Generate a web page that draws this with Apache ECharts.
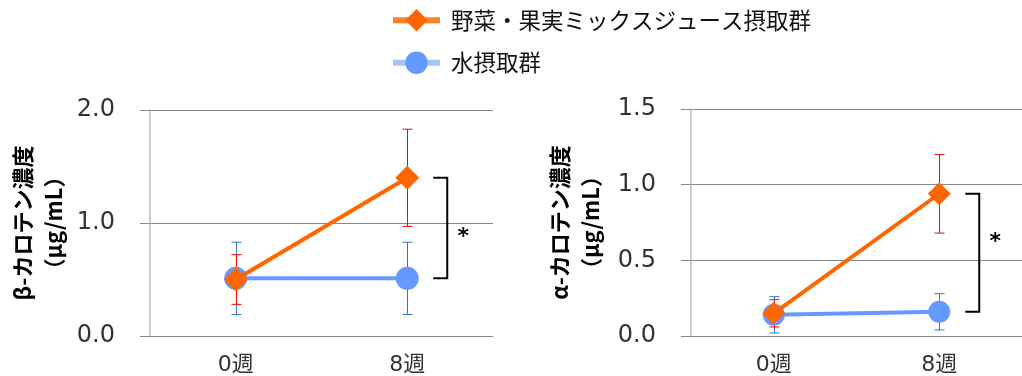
<!DOCTYPE html>
<html>
<head>
<meta charset="utf-8">
<script src="https://cdn.jsdelivr.net/npm/echarts@6/dist/echarts.min.js"></script>
<style>
  html, body { margin: 0; padding: 0; background: #fff; }
  #chart { width: 1022px; height: 376px; }
</style>
</head>
<body>
<div id="chart"></div>
<script>
// Time points and groups
const categories = ['0週', '8週'];
const seriesNames = ['野菜・果実ミックスジュース摂取群', '水摂取群'];

// β-carotene concentration (µg/mL): mean and SD
const betaJuice = [0.50, 1.40];
const betaJuiceSD = [0.22, 0.43];
const betaWater = [0.51, 0.51];
const betaWaterSD = [0.32, 0.32];

// α-carotene concentration (µg/mL): mean and SD
const alphaJuice = [0.15, 0.94];
const alphaJuiceSD = [0.09, 0.26];
const alphaWater = [0.14, 0.16];
const alphaWaterSD = [0.12, 0.12];

// Value axis ranges
const betaAxis = { min: 0, max: 2.0, interval: 1.0 };
const alphaAxis = { min: 0, max: 1.5, interval: 0.5 };

const LATIN = "'DejaVu Sans', 'Noto Sans CJK JP', sans-serif";
const CJK = "'Noto Sans CJK JP', 'DejaVu Sans', sans-serif";
const ORANGE = '#ff6600';
const BLUE = '#6699ff';

function errorBars(idx, means, sds, color) {
  return {
    type: 'custom',
    xAxisIndex: idx,
    yAxisIndex: idx,
    z: 1,
    silent: true,
    clip: false,
    data: means.map((m, i) => [i, m - sds[i], m + sds[i]]),
    encode: { x: 0, y: [1, 2] },
    renderItem(params, api) {
      const lo = api.coord([api.value(0), api.value(1)]);
      const hi = api.coord([api.value(0), api.value(2)]);
      const x = Math.round(lo[0]) + 0.5;
      const cap = 5;
      const st = { stroke: color, lineWidth: 1 };
      return {
        type: 'group',
        children: [
          { type: 'line', shape: { x1: x, y1: lo[1], x2: x, y2: hi[1] }, style: st },
          { type: 'line', shape: { x1: x - cap, y1: lo[1], x2: x + cap, y2: lo[1] }, style: st },
          { type: 'line', shape: { x1: x - cap, y1: hi[1], x2: x + cap, y2: hi[1] }, style: st }
        ]
      };
    }
  };
}

// Significance bracket between the two groups at 8 weeks
function bracket(idx, topVal, bottomVal, starShift) {
  return {
    type: 'custom',
    xAxisIndex: idx,
    yAxisIndex: idx,
    z: 5,
    silent: true,
    clip: false,
    data: [[1, bottomVal, topVal]],
    encode: { x: 0, y: [1, 2] },
    renderItem(params, api) {
      const b = api.coord([api.value(0), api.value(1)]);
      const t = api.coord([api.value(0), api.value(2)]);
      const x = b[0] + 40;
      return {
        type: 'group',
        children: [
          {
            type: 'polyline',
            shape: { points: [[x - 14, t[1]], [x, t[1]], [x, b[1]], [x - 14, b[1]]] },
            style: { stroke: '#000', lineWidth: 2, fill: null }
          },
          {
            type: 'text',
            x: x + 16,
            y: (t[1] + b[1]) / 2 + starShift,
            style: {
              text: '*', fill: '#000', font: "bold 22px 'DejaVu Sans'",
              align: 'center', verticalAlign: 'middle'
            }
          }
        ]
      };
    }
  };
}

function lineSeries(idx, name, data, color, symbol, size, z) {
  return {
    type: 'line',
    name: name,
    xAxisIndex: idx,
    yAxisIndex: idx,
    data: data,
    symbol: symbol,
    symbolSize: size,
    showSymbol: true,
    lineStyle: { color: color, width: 4 },
    itemStyle: { color: color },
    z: z,
    silent: true,
    animation: false
  };
}

function yAxis(idx, name, range, gap) {
  return {
    type: 'value',
    gridIndex: idx,
    min: range.min,
    max: range.max,
    interval: range.interval,
    name: name,
    nameLocation: 'middle',
    nameRotate: 90,
    nameGap: gap,
    nameTextStyle: { fontFamily: CJK, fontSize: 22, fontWeight: 'bold', color: '#000', lineHeight: 31 },
    axisLine: { show: true, lineStyle: { color: '#bdbdbd', width: 1.5 } },
    axisTick: { show: true, length: 10, lineStyle: { color: '#888' } },
    axisLabel: {
      margin: 35, fontFamily: LATIN, fontSize: 24, color: '#333',
      formatter: v => v.toFixed(1)
    },
    splitLine: { show: true, lineStyle: { color: '#888', width: 1 } }
  };
}

function xAxis(idx) {
  return {
    type: 'category',
    gridIndex: idx,
    data: categories,
    boundaryGap: true,
    axisLine: { show: true, lineStyle: { color: '#888', width: 1 } },
    axisTick: { show: false },
    axisLabel: { margin: 18, fontFamily: LATIN, fontSize: 22, color: '#333' },
    splitLine: { show: false }
  };
}

const chart = echarts.init(document.getElementById('chart'), null, { renderer: 'canvas' });
chart.setOption({
  animation: false,
  backgroundColor: '#fff',
  legend: {
    orient: 'vertical',
    left: 390,
    top: 9,
    padding: 0,
    itemWidth: 47,
    itemHeight: 28,
    itemGap: 20,
    selectedMode: false,
    textStyle: { fontFamily: CJK, fontSize: 22.5, color: '#111', padding: [0, 0, 0, 6] },
    data: [
      { name: seriesNames[0], lineStyle: { color: '#ff7f27', width: 6 } },
      { name: seriesNames[1], lineStyle: { color: '#a4c6f6', width: 6 } }
    ]
  },
  grid: [
    { left: 150, top: 110, width: 343, height: 230 },
    { left: 691, top: 109, width: 338, height: 229 }
  ],
  xAxis: [xAxis(0), xAxis(1)],
  yAxis: [
    yAxis(0, 'β-カロテン濃度\n（μg/mL）', betaAxis, 81),
    yAxis(1, 'α-カロテン濃度\n（μg/mL）', alphaAxis, 85)
  ],
  series: [
    errorBars(0, betaWater, betaWaterSD, '#2e75d6'),
    errorBars(0, betaJuice, betaJuiceSD, '#ff0000'),
    lineSeries(0, seriesNames[1], betaWater, BLUE, 'circle', 23, 3),
    lineSeries(0, seriesNames[0], betaJuice, ORANGE, 'diamond', 24, 4),
    bracket(0, betaJuice[1], betaWater[1], 9),

    errorBars(1, alphaWater, alphaWaterSD, '#2e75d6'),
    errorBars(1, alphaJuice, alphaJuiceSD, '#ff0000'),
    lineSeries(1, seriesNames[1], alphaWater, BLUE, 'circle', 22, 3),
    lineSeries(1, seriesNames[0], alphaJuice, ORANGE, 'diamond', 23, 4),
    bracket(1, alphaJuice[1], alphaWater[1], -10)
  ]
});
</script>
</body>
</html>
